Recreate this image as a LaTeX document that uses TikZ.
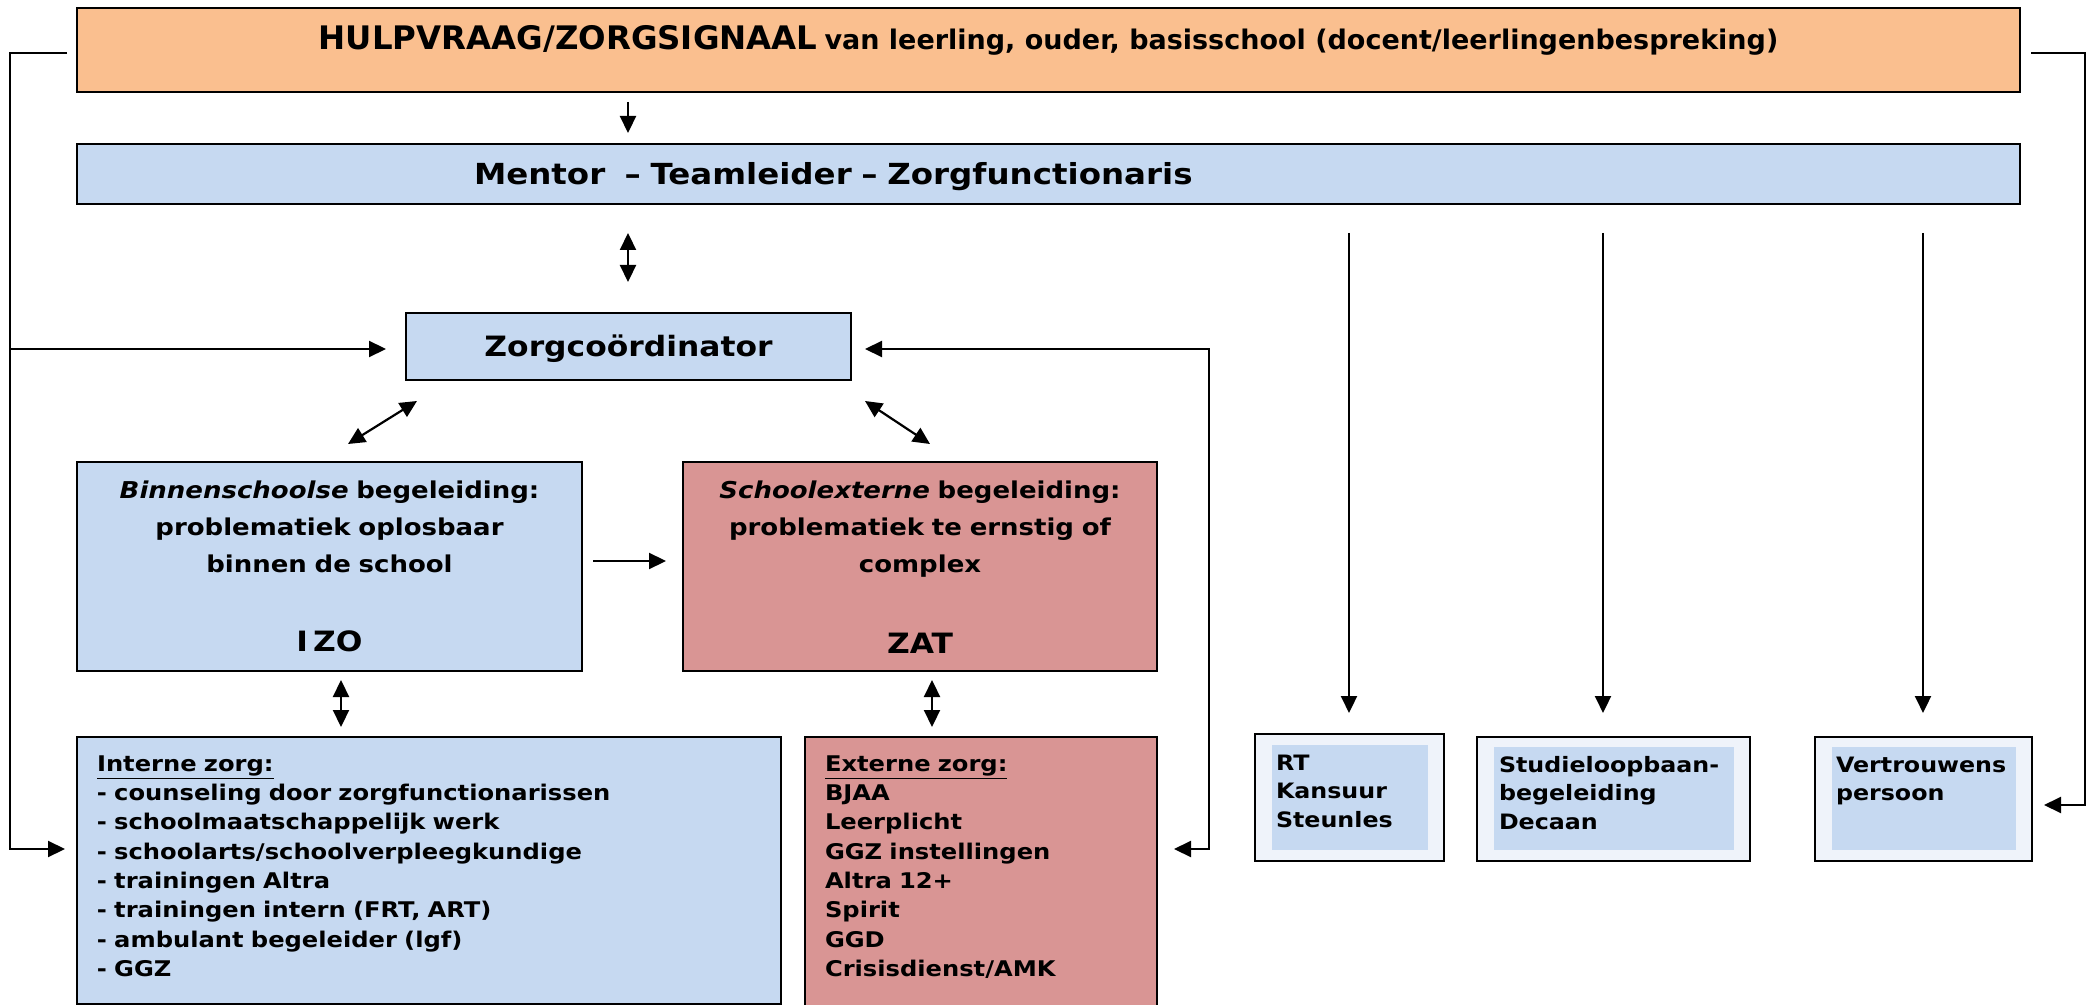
\documentclass[tikz,border=0pt]{standalone}
\usepackage{fontspec}
\setmainfont{DejaVu Sans}
\newfontfamily\widefont{DejaVu Sans}[FakeStretch=1.12]
\usetikzlibrary{arrows.meta,calc}
\definecolor{orangefill}{HTML}{FABF8F}
\definecolor{bluefill}{HTML}{C6D9F1}
\definecolor{redfill}{HTML}{D99594}
\definecolor{palefill}{HTML}{EFF3FA}
\begin{document}
\begin{tikzpicture}[x=0.5pt,y=-0.5pt,
  box/.style={draw=black, line width=1pt, inner sep=0pt, outer sep=0pt},
  innerbox/.style={fill=bluefill, inner sep=0pt, outer sep=0pt, align=left},
  conn/.style={line width=1.1pt},
  arr/.style={conn,-{Triangle[length=8.5pt,width=8pt]}},
  darr/.style={conn,{Triangle[length=8.5pt,width=8pt]}-{Triangle[length=8.5pt,width=8pt]}},
  font=\bfseries]
\useasboundingbox (0,0) rectangle (2087,1005);

% top boxes
\node[box, fill=orangefill, minimum width=971.5pt, minimum height=42pt,
      text height=12pt, text depth=12pt] (top) at (1048.5,50)
  {{\fontsize{16.2}{19}\selectfont HULPVRAAG/ZORGSIGNAAL} {\fontsize{13.5}{16}\selectfont van leerling, ouder, basisschool (docent/leerlingenbespreking)}};
\node[box, fill=bluefill, minimum height=30pt, text width=971.5pt, align=left,
      text height=12pt, text depth=1pt, font=\widefont\bfseries\fontsize{14.5}{17}\selectfont] (mentor) at (1048.5,174)
  {\hspace*{198.5pt}Mentor\ \ – Teamleider – Zorgfunctionaris};

% zorgcoordinator
\node[box, fill=bluefill, minimum width=222.5pt, minimum height=33.5pt,
      text height=10.5pt, text depth=0pt, font=\widefont\bfseries\fontsize{14}{17}\selectfont] (zorg) at (628.5,346.5)
  {Zorgcoördinator};

% IZO / ZAT
\node[box, fill=bluefill, anchor=north, text width=252.5pt, align=center,
      text height=18pt, text depth=86.5pt, font=\widefont\bfseries\fontsize{11.6}{18.5}\selectfont] (izo) at (329.5,462)
  {\textit{Binnenschoolse} begeleiding:\\ problematiek oplosbaar\\ binnen de school\\[21pt]{\fontsize{14}{18.5}\selectfont I\hspace{2.5pt}ZO}};
\node[box, fill=redfill, anchor=north, text width=237pt, align=center,
      text height=18pt, text depth=86.5pt, font=\widefont\bfseries\fontsize{11.6}{18.5}\selectfont] (zat) at (920,462)
  {\textit{Schoolexterne} begeleiding:\\ problematiek te ernstig of\\ complex\\[22pt]{\fontsize{14}{18.5}\selectfont ZAT}};

% Interne / Externe zorg
\node[box, fill=bluefill, anchor=north west, inner xsep=10pt, text width=332pt, align=left,
      text height=17pt, text depth=116.5pt, font=\widefont\bfseries\fontsize{10.8}{14.67}\selectfont] (intern) at (77,737)
  {\underline{Interne zorg:}\\
   - counseling door zorgfunctionarissen\\
   - schoolmaatschappelijk werk\\
   - schoolarts/schoolverpleegkundige\\
   - trainingen Altra\\
   - trainingen intern (FRT, ART)\\
   - ambulant begeleider (lgf)\\
   - GGZ};
\node[box, fill=redfill, anchor=north west, inner xsep=10pt, text width=156pt, align=left,
      text height=17pt, text depth=119.5pt, font=\widefont\bfseries\fontsize{10.8}{14.67}\selectfont] (extern) at (805,737)
  {\underline{Externe zorg:}\\
   BJAA\\
   Leerplicht\\
   GGZ instellingen\\
   Altra 12+\\
   Spirit\\
   GGD\\
   Crisisdienst/AMK};

% small boxes
\node[box, fill=palefill, minimum width=94.5pt, minimum height=63.5pt] (rt) at (1349.5,797.5) {};
\node[innerbox, anchor=north west, inner xsep=2pt, text width=74pt, text height=12.5pt, text depth=40pt,
      font=\widefont\bfseries\fontsize{10.6}{14.3}\selectfont] (rtin) at (1272,745)
  {RT\\ Kansuur\\ Steunles};
\node[box, fill=palefill, minimum width=136.5pt, minimum height=62pt] (stud) at (1613.5,799) {};
\node[innerbox, anchor=north west, inner xsep=2.5pt, text width=115pt, text height=12.5pt, text depth=39pt,
      font=\widefont\bfseries\fontsize{10.6}{14.3}\selectfont] (studin) at (1494,747)
  {Studieloopbaan-\\ begeleiding\\ Decaan};
\node[box, fill=palefill, minimum width=108.5pt, minimum height=62pt] (vert) at (1923.5,799) {};
\node[innerbox, anchor=north west, inner xsep=2pt, text width=88pt, text height=12.5pt, text depth=39pt,
      font=\widefont\bfseries\fontsize{10.6}{14.3}\selectfont] (vertin) at (1832,747)
  {Vertrouwens\\ persoon};

% helper coordinates
\coordinate (mx) at (628,0);
\coordinate (v1) at (341,0);
\coordinate (v2) at (932,0);
\coordinate (s1) at (1349,233);
\coordinate (s2) at (1603,233);
\coordinate (s3) at (1923,233);
\coordinate (lt) at (67,53);
\coordinate (cl1) at (10,53);
\coordinate (cl2) at (10,349);
\coordinate (cl3) at (10,849);
\coordinate (rt0) at (2031,53);
\coordinate (cr1) at (2085,53);
\coordinate (cr2) at (2085,805);
\coordinate (cz1) at (1209,349);
\coordinate (cz2) at (1209,849);

% connectors
\draw[arr] ($(mx |- top.south)+(0,10)$) -- ($(mx |- mentor.north)+(0,-11)$);
\draw[darr] ($(mentor.south -| mx)+(0,29)$) -- ($(zorg.north -| mx)+(0,-31)$);
\draw[darr] ($(izo.north)+(18.5,-18)$) -- ($(zorg.south west)+(11,21)$);
\draw[darr] ($(zorg.south east)+(14,21)$) -- ($(zat.north)+(10,-18)$);
\draw[arr] ($(izo.east)+(11,-5.5)$) -- ($(zat.west)+(-17,-5.5)$);
\draw[darr] ($(v1 |- izo.south)+(0,9)$) -- ($(v1 |- intern.north)+(0,-10)$);
\draw[darr] ($(v2 |- zat.south)+(0,9)$) -- ($(v2 |- extern.north)+(0,-10)$);

\draw[arr] (lt) -- (cl1) -- (cl3) -- ($(intern.west |- cl3)+(-12,0)$);
\draw[arr] (cl2) -- ($(zorg.west |- cl2)+(-20,0)$);
\draw[arr] (rt0) -- (cr1) -- (cr2) -- ($(vert.east |- cr2)+(12,0)$);
\draw[darr] ($(zorg.east |- cz1)+(14,0)$) -- (cz1) -- (cz2) -- ($(extern.east |- cz2)+(17,0)$);

\draw[arr] (s1) -- ($(s1 |- rt.north)+(0,-21)$);
\draw[arr] (s2) -- ($(s2 |- stud.north)+(0,-24)$);
\draw[arr] (s3) -- ($(s3 |- vert.north)+(0,-24)$);
\end{tikzpicture}
\end{document}
